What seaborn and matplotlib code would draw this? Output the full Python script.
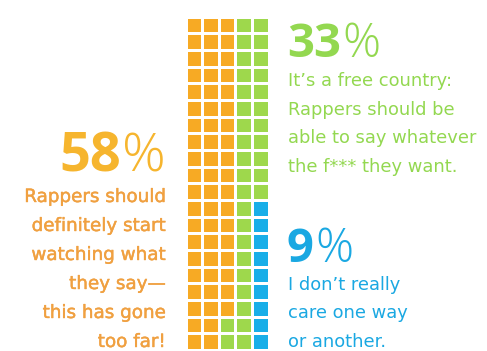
import numpy as np
import matplotlib
matplotlib.use("Agg")
import matplotlib.pyplot as plt
import matplotlib.patheffects as pe
from matplotlib.colors import ListedColormap
import seaborn as sns

# Survey answers, in the order the waffle is filled (column by column)
categories = ["Rappers should watch what they say", "Free country", "Don't care"]
shares = [58, 33, 9]
colors = ["#F7AA24", "#9ED84C", "#18AEE8"]
text_colors = ["#F0A040", "#93D850", "#1AA8E2"]
captions = [
    ["Rappers should", "definitely start", "watching what", "they say\u2014",
     "this has gone", "too far!"],
    ["It\u2019s a free country:", "Rappers should be", "able to say whatever",
     "the f*** they want."],
    ["I don\u2019t really", "care one way", "or another."],
]

n_rows, n_cols = 20, 5

# Build the 20x5 grid, filling each column top to bottom, left to right
codes = np.repeat(np.arange(len(shares)), shares)
grid = codes.reshape(n_cols, n_rows).T

sns.set_theme(style="white")
plt.rcParams["font.family"] = ["DejaVu Sans"]

W, H = 487, 351
fig = plt.figure(figsize=(W / 100, H / 100), dpi=100)
fig.patch.set_facecolor("white")

# Waffle block
x0, x1, y0, y1 = 185.5, 268.5, 16.5, 350.0
ax = fig.add_axes([x0 / W, 1 - y1 / H, (x1 - x0) / W, (y1 - y0) / H])
sns.heatmap(grid, ax=ax, cmap=ListedColormap(colors), vmin=-0.5,
            vmax=len(shares) - 0.5, cbar=False, linewidths=2.0,
            linecolor="white", xticklabels=False, yticklabels=False)
ax.set_axis_off()

# Text layer in pixel coordinates (y grows downward)
tx = fig.add_axes([0, 0, 1, 1])
tx.set_xlim(0, W)
tx.set_ylim(H, 0)
tx.set_axis_off()
tx.patch.set_alpha(0)

NUM_FONT = "Open Sans"
BODY_FONT = "DejaVu Sans"
fig.canvas.draw()
renderer = fig.canvas.get_renderer()


def text_width(s, size, weight):
    t = tx.text(0, 0, s, fontsize=size, family=NUM_FONT, fontweight=weight)
    w = t.get_window_extent(renderer).width
    t.remove()
    return w


def big_pct(x, y, value, color, size, align="left"):
    """Bold number followed by a thin percent sign on the same baseline."""
    label = f"{value}"
    wn = text_width(label, size, "bold")
    wp = text_width("%", size, "light")
    if align == "right":
        x = x - wn - wp - 1
    tx.text(x, y, label, color=color, fontsize=size, family=NUM_FONT,
            fontweight="bold", ha="left", va="baseline")
    tx.text(x + wn + 1, y, "%", color=color, fontsize=size,
            family=NUM_FONT, fontweight="light", ha="left", va="baseline")


# Left block, right aligned, slightly heavier strokes
big_pct(166, 172, shares[0], "#F6B52E", 39, align="right")
medium = [pe.withStroke(linewidth=0.3, foreground=text_colors[0])]
for i, line in enumerate(captions[0]):
    tx.text(166, 202 + 29 * i, line, color=text_colors[0], fontsize=13.2,
            family=BODY_FONT, ha="right", va="baseline",
            path_effects=medium)

# Right blocks
big_pct(287, 57, shares[1], text_colors[1], 34)
for i, line in enumerate(captions[1]):
    tx.text(288, 86 + 28.7 * i, line, color=text_colors[1], fontsize=12.9,
            family=BODY_FONT, ha="left", va="baseline")

big_pct(287, 262, shares[2], text_colors[2], 34)
for i, line in enumerate(captions[2]):
    tx.text(288, 290 + 28.5 * i, line, color=text_colors[2], fontsize=12.9,
            family=BODY_FONT, ha="left", va="baseline")

fig.savefig("out.png", dpi=100, facecolor="white")
